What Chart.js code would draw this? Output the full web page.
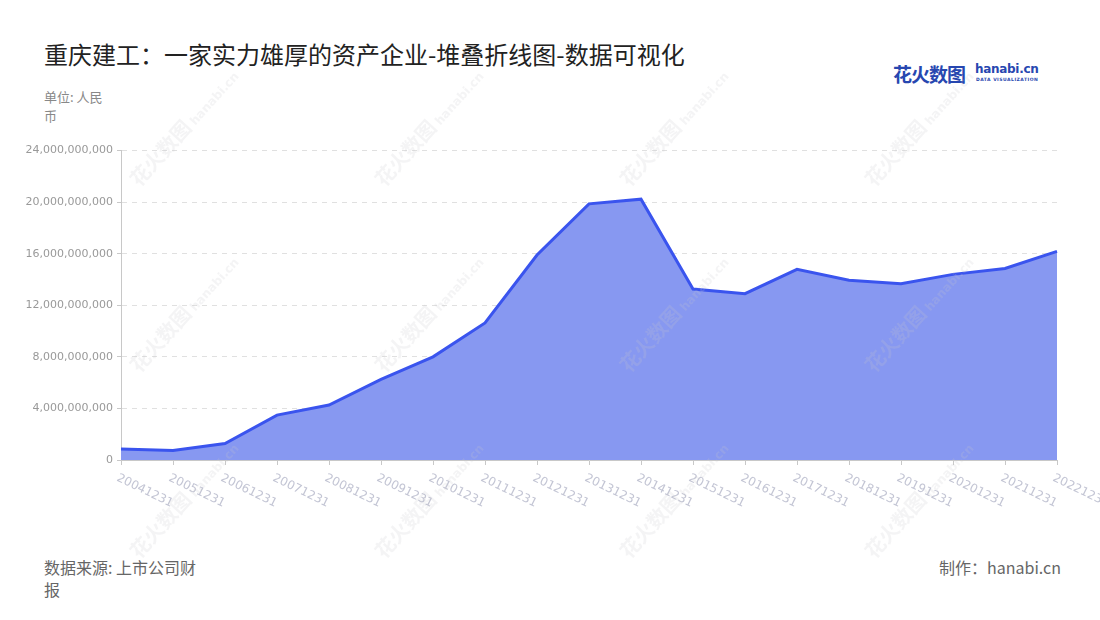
<!DOCTYPE html>
<html>
<head>
<meta charset="utf-8">
<script src="https://cdn.jsdelivr.net/npm/chart.js@4.4.0/dist/chart.umd.min.js"></script>
<style>
  body { margin: 0; width: 1100px; height: 620px; background: #fff; font-family: "Noto Sans CJK SC", "Noto Sans", sans-serif; position: relative; overflow: hidden; }
  .title { position: absolute; left: 44px; top: 36px; font-size: 24px; color: #222; }
  .unit { position: absolute; left: 44px; top: 87px; width: 70px; font-size: 13px; line-height: 19px; color: #888; }
  .source { position: absolute; left: 44px; top: 556px; width: 158px; font-size: 16px; line-height: 22px; color: #666; }
  .maker { position: absolute; right: 39px; top: 555px; font-size: 16px; color: #666; }
  .logo { position: absolute; left: 893px; top: 60px; color: #2747b0; }
  .logo .cn { font-size: 19px; font-weight: bold; letter-spacing: -1px; }
  .logo .en { position: absolute; left: 82px; top: 2px; font-family: "DejaVu Sans", sans-serif; font-size: 12px; font-weight: bold; letter-spacing: -0.3px; white-space: nowrap; }
  .logo .sub { position: absolute; left: 83px; top: 17px; font-family: "DejaVu Sans", sans-serif; font-size: 4.5px; font-weight: bold; letter-spacing: 0.5px; white-space: nowrap; }
  #wrap { position: absolute; left: 0; top: 140px; width: 1100px; height: 380px; }
  .wm { position: absolute; width: 160px; margin-left: -80px; margin-top: -12px; text-align: center; transform: rotate(-48deg);
        color: rgba(200, 200, 205, 0.2); white-space: nowrap; pointer-events: none; z-index: 2; }
  .wm b { font-size: 20px; }
  .wm i { font-style: normal; font-weight: bold; font-family: "DejaVu Sans", sans-serif; font-size: 12px; }
</style>
</head>
<body>
<div class="title">重庆建工：一家实力雄厚的资产企业-堆叠折线图-数据可视化</div>
<div class="logo"><span class="cn">花火数图</span><span class="en">hanabi.cn</span><span class="sub">DATA VISUALIZATION</span></div>
<div class="unit">单位: 人民币</div>
<div id="wrap"><canvas id="myChart"></canvas></div>
<div class="source">数据来源: 上市公司财报</div>
<div class="maker">制作：hanabi.cn</div>
<div id="marks"></div>
<script>
var dates = ['20041231', '20051231', '20061231', '20071231', '20081231', '20091231', '20101231',
  '20111231', '20121231', '20131231', '20141231', '20151231', '20161231', '20171231',
  '20181231', '20191231', '20201231', '20211231', '20221231'];
var assets = [850000000, 740000000, 1280000000, 3480000000, 4260000000, 6250000000, 8000000000,
  10630000000, 15900000000, 19870000000, 20230000000, 13260000000, 12900000000, 14790000000,
  13940000000, 13680000000, 14400000000, 14860000000, 16180000000];
var yTicks = [0, 4000000000, 8000000000, 12000000000, 16000000000, 20000000000, 24000000000];

// faint watermark grid
var marks = document.getElementById('marks');
[124, 310, 496].forEach(function(y) {
  [183, 428, 673, 918].forEach(function(x) {
    var d = document.createElement('div');
    d.className = 'wm';
    d.style.left = x + 'px';
    d.style.top = y + 'px';
    d.innerHTML = '<b>花火数图</b> <i>hanabi.cn</i>';
    marks.appendChild(d);
  });
});

// rotated date labels hanging from the ticks
var dateLabels = {
  id: 'dateLabels',
  afterDraw: function(chart) {
    var xs = chart.scales.x, c = chart.ctx;
    c.save();
    c.font = '12px "DejaVu Sans", sans-serif';
    c.fillStyle = '#c3c5d4';
    c.textAlign = 'left';
    c.textBaseline = 'top';
    dates.forEach(function(d, i) {
      c.save();
      c.translate(xs.getPixelForValue(i) - 1, xs.top + 12);
      c.rotate(26 * Math.PI / 180);
      c.fillText(d, 0, 0);
      c.restore();
    });
    c.restore();
  }
};

var ctx = document.getElementById('myChart').getContext('2d');
var chart = new Chart(ctx, {
  type: 'line',
  data: {
    labels: dates,
    datasets: [{
      label: '资产',
      data: assets,
      borderColor: 'rgb(58, 84, 238)',
      backgroundColor: 'rgb(135, 152, 241)',
      borderWidth: 3,
      fill: 'origin',
      pointRadius: 0,
      tension: 0
    }]
  },
  options: {
    responsive: true,
    maintainAspectRatio: false,
    animation: false,
    layout: { padding: { top: 10, right: 43, left: 0, bottom: 0 } },
    plugins: { legend: { display: false }, tooltip: { enabled: false } },
    scales: {
      x: {
        offset: false,
        afterFit: function(s) { s.height = 60; },
        border: { color: '#c8c8c8', width: 1 },
        grid: { drawOnChartArea: false, drawTicks: true, tickLength: 5, color: '#c8c8c8' },
        ticks: { display: false, autoSkip: false }
      },
      y: {
        min: 0, max: 24000000000,
        afterFit: function(s) { s.width = 121; },
        afterBuildTicks: function(s) { s.ticks = yTicks.map(function(v) { return { value: v }; }); },
        border: { color: '#c8c8c8', width: 1, dash: [5, 5] },
        grid: { color: '#e0e0e0', tickLength: 4, tickColor: '#c8c8c8', tickBorderDash: [0, 0] },
        ticks: {
          color: '#999',
          padding: 4,
          font: { size: 11, family: '"DejaVu Sans", sans-serif' },
          callback: function(v) { return Number(v).toLocaleString('en-US'); }
        }
      }
    }
  },
  plugins: [dateLabels]
});
</script>
</body>
</html>
